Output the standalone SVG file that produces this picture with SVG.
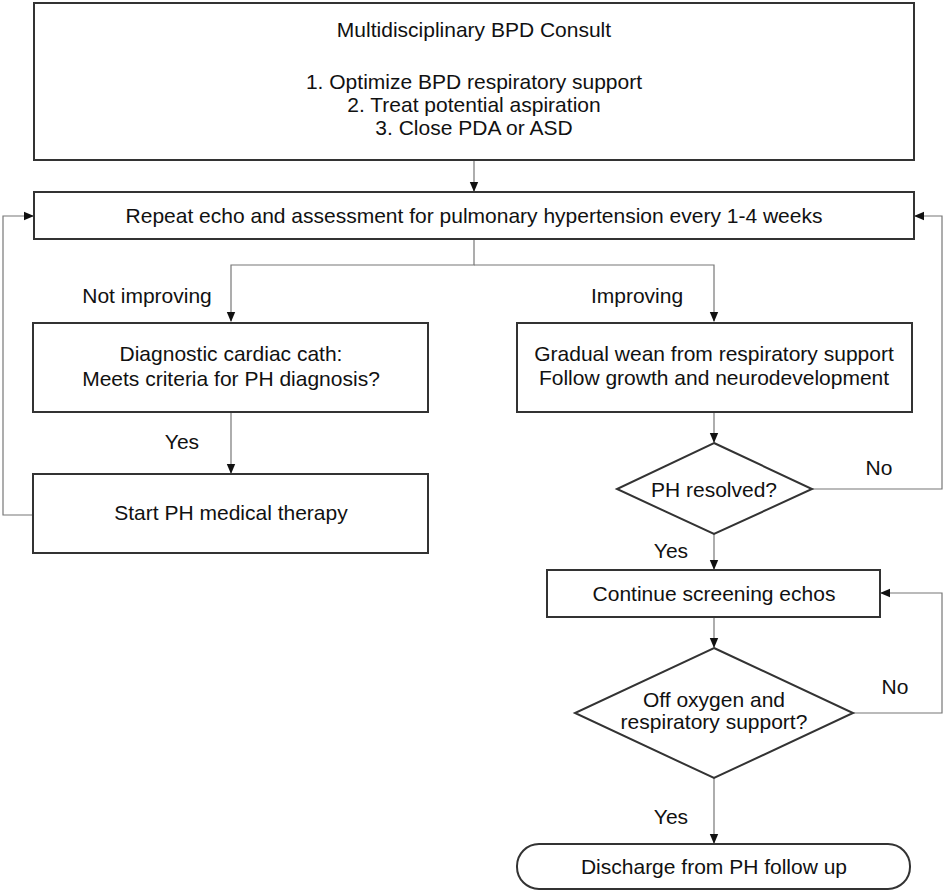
<svg xmlns="http://www.w3.org/2000/svg" width="945" height="894" viewBox="0 0 945 894">
<style>
.box{fill:#fff;stroke:#333;stroke-width:2}
.ln{fill:none;stroke:#777;stroke-width:1.2}
text{font-family:"Liberation Sans",Arial,sans-serif;font-size:21px;fill:#111;text-anchor:middle}
</style>
<defs>
<marker id="ah" markerWidth="10" markerHeight="10" refX="9" refY="5" orient="auto" markerUnits="userSpaceOnUse">
<path d="M0,0.8 L10,5 L0,9.2 Z" fill="#111"/>
</marker>
</defs>
<rect width="945" height="894" fill="#fff"/>
<g id="connectors">
<path class="ln" d="M474,160 V191" marker-end="url(#ah)"/>
<path class="ln" d="M474,239 V265 H231 V321" marker-end="url(#ah)"/>
<path class="ln" d="M474,265 H714 V321" marker-end="url(#ah)"/>
<path class="ln" d="M231,412 V473" marker-end="url(#ah)"/>
<path class="ln" d="M33,515 H3 V216 H33" marker-end="url(#ah)"/>
<path class="ln" d="M714,412 V442" marker-end="url(#ah)"/>
<path class="ln" d="M812,489 H942 V216 H915" marker-end="url(#ah)"/>
<path class="ln" d="M714,534 V569" marker-end="url(#ah)"/>
<path class="ln" d="M714,617 V647" marker-end="url(#ah)"/>
<path class="ln" d="M853,713 H942 V593 H881" marker-end="url(#ah)"/>
<path class="ln" d="M714,778 V843" marker-end="url(#ah)"/>
<text x="147" y="303">Not improving</text>
<text x="637" y="303">Improving</text>
<text x="182" y="449">Yes</text>
<text x="879" y="475">No</text>
<text x="671" y="558">Yes</text>
<text x="895" y="694">No</text>
<text x="671" y="824">Yes</text>
</g>
<g id="consult">
<rect class="box" x="34" y="3" width="880" height="157"/>
<text x="474" y="37">Multidisciplinary BPD Consult</text>
<text x="474" y="89">1. Optimize BPD respiratory support</text>
<text x="474" y="112">2. Treat potential aspiration</text>
<text x="474" y="135">3. Close PDA or ASD</text>
</g>
<g id="repeat">
<rect class="box" x="34" y="192" width="880" height="47"/>
<text x="474" y="223">Repeat echo and assessment for pulmonary hypertension every 1-4 weeks</text>
</g>
<g id="cath">
<rect class="box" x="33" y="323" width="395" height="89"/>
<text x="231" y="361">Diagnostic cardiac cath:</text>
<text x="231" y="386">Meets criteria for PH diagnosis?</text>
</g>
<g id="therapy">
<rect class="box" x="33" y="474" width="395" height="79"/>
<text x="231" y="520">Start PH medical therapy</text>
</g>
<g id="wean">
<rect class="box" x="517" y="323" width="395" height="89"/>
<text x="714" y="361">Gradual wean from respiratory support</text>
<text x="714" y="385">Follow growth and neurodevelopment</text>
</g>
<g id="resolved">
<polygon class="box" points="714,443 812,489 714,534 617,489"/>
<text x="714" y="497">PH resolved?</text>
</g>
<g id="screening">
<rect class="box" x="547" y="570" width="333" height="47"/>
<text x="714" y="601">Continue screening echos</text>
</g>
<g id="offoxygen">
<polygon class="box" points="714,648 853,713 714,778 575,713"/>
<text x="714" y="707">Off oxygen and</text>
<text x="714" y="729">respiratory support?</text>
</g>
<g id="discharge">
<rect class="box" x="517" y="844" width="393" height="45" rx="22" ry="22"/>
<text x="714" y="874">Discharge from PH follow up</text>
</g>
</svg>
